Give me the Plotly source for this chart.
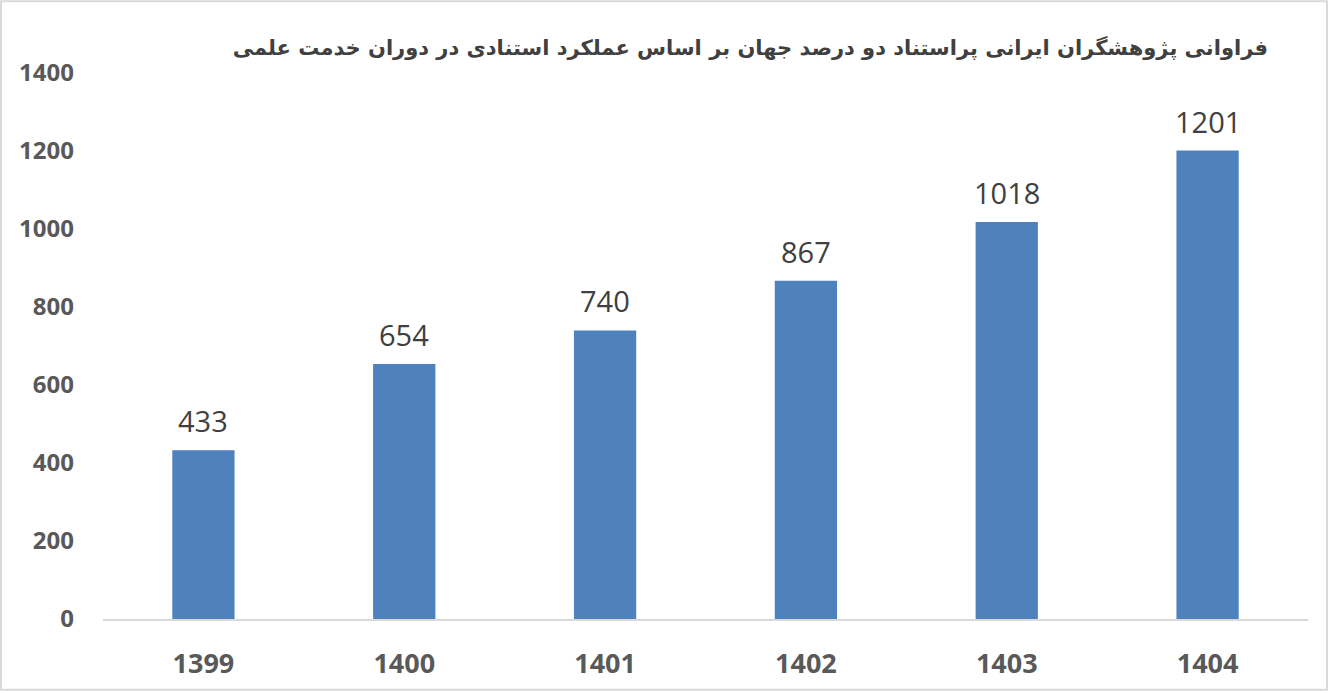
import plotly.graph_objects as go

# data
years = ["1399", "1400", "1401", "1402", "1403", "1404"]
counts = [433, 654, 740, 867, 1018, 1201]
y_ticks = [0, 200, 400, 600, 800, 1000, 1200, 1400]

title_text = "فراوانی پژوهشگران ایرانی پراستناد دو درصد جهان بر اساس عملکرد استنادی در دوران خدمت علمی"

W, H = 1328, 693
ml, mr, mt, mb = 103, 20, 73, 72
pw = W - ml - mr
ph = H - mt - mb

fig = go.Figure()
fig.add_trace(go.Bar(
    x=years,
    y=counts,
    marker=dict(color="#4F81BD", line=dict(width=0)),
    hoverinfo="x+y",
))

# value labels sitting a little above each bar
# (category index for x: numeric-looking names get read as indices)
for i, v in enumerate(counts):
    fig.add_annotation(
        x=i, y=v, text=str(v),
        showarrow=False,
        yanchor="bottom",
        yshift=8,
        font=dict(family="Open Sans, DejaVu Sans", size=29, color="#404040"),
    )

fig.update_layout(
    width=W,
    height=H,
    autosize=False,
    margin=dict(l=ml, r=mr, t=mt, b=mb, pad=0),
    paper_bgcolor="white",
    plot_bgcolor="white",
    bargap=0.69,
    showlegend=False,
    title=dict(
        text="<b>" + title_text + "</b>",
        x=1268 / W,
        xanchor="right",
        y=1 - 48 / H,
        yanchor="middle",
        font=dict(family="DejaVu Sans", size=21, color="#404040"),
    ),
)

fig.update_yaxes(
    range=[0, 1400],
    tickvals=y_ticks,
    showgrid=False,
    zeroline=False,
    showline=False,
    ticks="",
    ticklabelstandoff=28,
    tickfont=dict(family="Open Sans, DejaVu Sans", size=24, color="#595959", weight="bold"),
)
fig.update_xaxes(
    type="category",
    showgrid=False,
    showline=True,
    linecolor="#D9D9D9",
    linewidth=2,
    ticks="",
    ticklabelstandoff=20,
    tickfont=dict(family="Open Sans, DejaVu Sans", size=27, color="#595959", weight="bold"),
)

# thin border around the whole chart
fig.add_shape(
    type="rect",
    xref="paper", yref="paper",
    x0=-(ml - 1) / pw, x1=1 + (mr - 1) / pw,
    y0=-(mb - 1) / ph, y1=1 + (mt - 1) / ph,
    line=dict(color="#D9D9D9", width=2),
    fillcolor="rgba(0,0,0,0)",
    layer="below",
)

fig.write_html("out.html", config={"displayModeBar": False},
               post_script="document.body.style.margin='0';")
